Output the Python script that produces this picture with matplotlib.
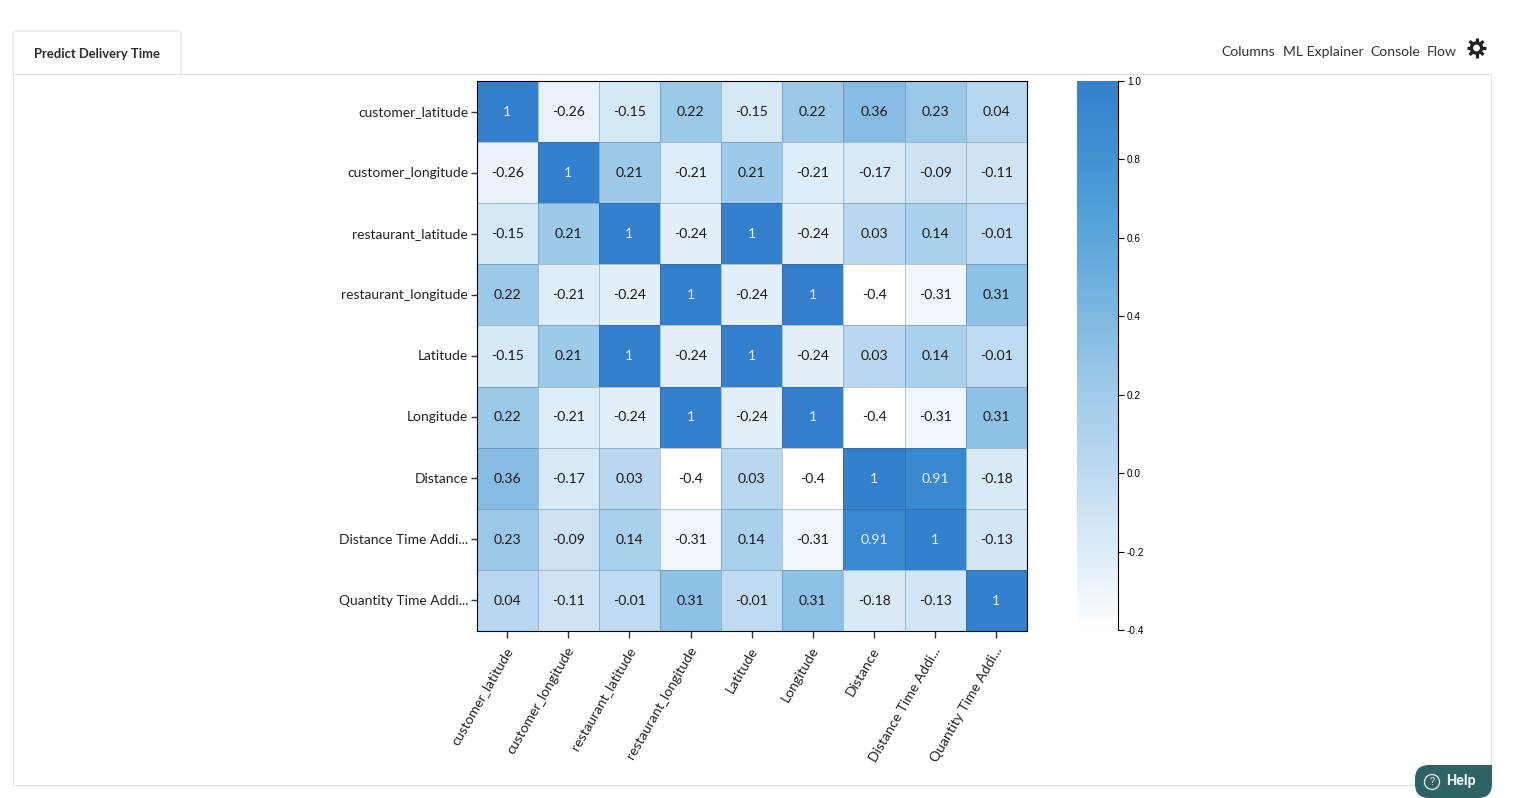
import numpy as np
import matplotlib
matplotlib.use("Agg")
import matplotlib.pyplot as plt
from matplotlib.colors import LinearSegmentedColormap, Normalize
from matplotlib.cm import ScalarMappable
from matplotlib.patches import FancyBboxPatch, Circle, Rectangle
from matplotlib.transforms import ScaledTranslation

plt.rcParams['font.family'] = ['Lato', 'DejaVu Sans']

W, H = 1514, 798

# heatmap data
x_labels = ["customer_latitude", "customer_longitude", "restaurant_latitude",
            "restaurant_longitude", "Latitude", "Longitude", "Distance",
            "Distance Time Addi...", "Quantity Time Addi..."]
row_customer_lat = [1, -0.26, -0.15, 0.22, -0.15, 0.22, 0.36, 0.23, 0.04]
row_customer_lon = [-0.26, 1, 0.21, -0.21, 0.21, -0.21, -0.17, -0.09, -0.11]
row_rest_lat = [-0.15, 0.21, 1, -0.24, 1, -0.24, 0.03, 0.14, -0.01]
row_rest_lon = [0.22, -0.21, -0.24, 1, -0.24, 1, -0.4, -0.31, 0.31]
row_latitude = [-0.15, 0.21, 1, -0.24, 1, -0.24, 0.03, 0.14, -0.01]
row_longitude = [0.22, -0.21, -0.24, 1, -0.24, 1, -0.4, -0.31, 0.31]
row_distance = [0.36, -0.17, 0.03, -0.4, 0.03, -0.4, 1, 0.91, -0.18]
row_dist_time = [0.23, -0.09, 0.14, -0.31, 0.14, -0.31, 0.91, 1, -0.13]
row_qty_time = [0.04, -0.11, -0.01, 0.31, -0.01, 0.31, -0.18, -0.13, 1]
colorbar_ticks = [-0.4, -0.2, 0.0, 0.2, 0.4, 0.6, 0.8, 1.0]

matrix = np.array([row_customer_lat, row_customer_lon, row_rest_lat, row_rest_lon,
                   row_latitude, row_longitude, row_distance, row_dist_time, row_qty_time])

cmap = LinearSegmentedColormap.from_list("blues_web", [
    (0.0, "#ffffff"), (1 / 7, "#dcecf8"), (2 / 7, "#bddaf1"), (3 / 7, "#a0cbea"),
    (4 / 7, "#7fb8e2"), (5 / 7, "#5ba5da"), (6 / 7, "#4193d3"), (1.0, "#3480cc")])
norm = Normalize(-0.4, 1.0)


def px_axes(fig, left, top, right, bottom):
    # pixel box -> figure fractions
    return fig.add_axes([left / W, 1 - bottom / H, (right - left) / W, (bottom - top) / H])


fig = plt.figure(figsize=(W / 100, H / 100), dpi=100)

# page chrome drawn in pixel coordinates
bg = fig.add_axes([0, 0, 1, 1])
bg.set_xlim(0, W)
bg.set_ylim(H, 0)
bg.axis("off")
border = "#e2e2e2"
bg.add_patch(FancyBboxPatch((13, 31), 168, 50, boxstyle="round,pad=0,rounding_size=3",
                            fc="white", ec=border, lw=0.8, zorder=1))
bg.add_patch(Rectangle((11, 74), 172, 10, fc="white", ec="none", zorder=2))
bg.add_patch(Rectangle((13, 74), 1478, 711, fill=False, ec=border, lw=0.8, zorder=3))
bg.text(97, 53, "Predict Delivery Time", fontsize=9.35, fontweight="bold", color="#2a2a2a",
        ha="center", va="center_baseline", zorder=4)
for label, xpos in [("Columns", 1221), ("ML Explainer", 1283), ("Console", 1370), ("Flow", 1427)]:
    bg.text(xpos, 51.5, label, fontsize=10.1, color="#333333", ha="left", va="center_baseline")

# gear icon
gear_x, gear_y = 1476.5, 48
for ang in np.deg2rad([0, 45, 90, 135]):
    dx, dy = 9.8 * np.cos(ang), 9.8 * np.sin(ang)
    bg.plot([gear_x - dx, gear_x + dx], [gear_y - dy, gear_y + dy], color="#222222",
            lw=2.3, solid_capstyle="butt")
bg.add_patch(Circle((gear_x, gear_y), 6.8, fc="#222222", ec="none", zorder=3))
bg.add_patch(Circle((gear_x, gear_y), 3.4, fc="white", ec="none", zorder=4))

# help button
bg.add_patch(FancyBboxPatch((1415, 765), 77, 33, boxstyle="round,pad=0,rounding_size=14",
                            fc="#2f6263", ec="none", zorder=5))
bg.add_patch(Rectangle((1478, 765), 14, 10, fc="#2f6263", ec="none", zorder=5))
bg.add_patch(Circle((1432, 782), 7.5, fc="none", ec="#d8e6e6", lw=1, zorder=6))
bg.text(1432, 782, "?", fontsize=8, family="Roboto", color="#d8e6e6", ha="center",
        va="center", zorder=6)
bg.text(1446, 781.5, "Help", fontsize=10.4, family="Roboto", fontweight="bold", color="#e8f0f0",
        ha="left", va="center", zorder=6)

# heatmap
ax = px_axes(fig, 476.5, 81, 1027, 631)
n = len(x_labels)
ax.pcolormesh(np.arange(n + 1), np.arange(n + 1), matrix, cmap=cmap, norm=norm,
              edgecolors=(0.15, 0.25, 0.35, 0.28), linewidth=0.7)
ax.set_xlim(0, n)
ax.set_ylim(n, 0)
centers = np.arange(n) + 0.5
ax.set_xticks(centers)
ax.set_yticks(centers)
ax.set_xticklabels(x_labels, rotation=60, ha="right", va="top", rotation_mode="anchor",
                   fontsize=10.1, color="#222222")
ax.set_yticklabels(x_labels, fontsize=10.0, color="#222222", va="center_baseline")
ax.tick_params(axis="x", length=5, width=1, color="#333333", pad=5)
ax.tick_params(axis="y", length=4, width=1, color="#333333", pad=2)
x_shift = ScaledTranslation(-2.5 / 100, 0, fig.dpi_scale_trans)
y_shift = ScaledTranslation(0, 0.7 / 100, fig.dpi_scale_trans)
for t in ax.get_xticklabels():
    t.set_transform(t.get_transform() + x_shift)
for t in ax.get_yticklabels():
    t.set_transform(t.get_transform() + y_shift)
for spine in ax.spines.values():
    spine.set_linewidth(0.8)
    spine.set_color("black")

for i in range(n):
    for j in range(n):
        val = matrix[i, j]
        ax.text(j + 0.5, i + 0.5, f"{val:g}", ha="center", va="center_baseline", fontsize=10.1,
                color="#e8f2fb" if val > 0.8 else "#1a1a1a",
                transform=ax.transData + y_shift)

# colorbar
cax = px_axes(fig, 1077, 81, 1118, 630)
cbar = fig.colorbar(ScalarMappable(norm=norm, cmap=cmap), cax=cax)
cbar.set_ticks(colorbar_ticks)
cbar.set_ticklabels([f"{v:.1f}" for v in colorbar_ticks])
cbar.outline.set_visible(False)
cax.spines["right"].set_visible(True)
cax.spines["right"].set_linewidth(0.8)
cax.tick_params(axis="y", length=4, width=0.8, pad=2.5, labelsize=7.2, color="black",
                labelfontfamily="Liberation Sans")

fig.savefig("out.png", dpi=100)
